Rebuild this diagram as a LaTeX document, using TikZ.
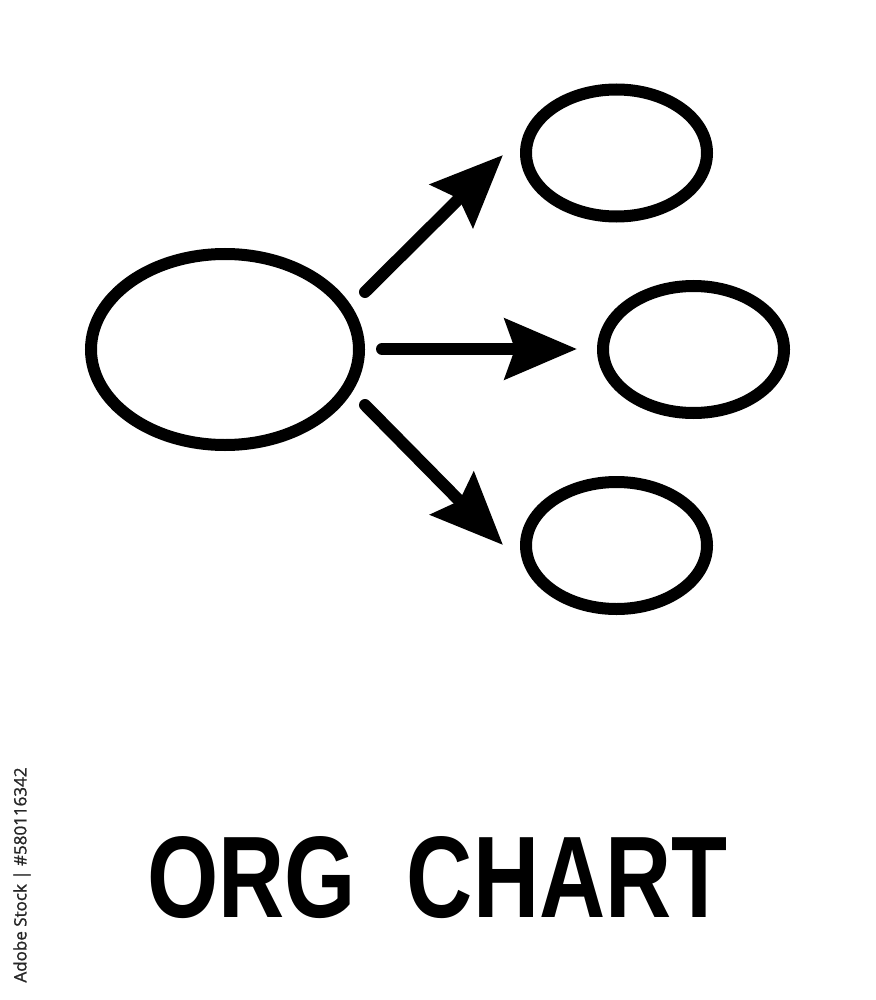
\documentclass[tikz,border=0pt]{standalone}
\usepackage{fontspec}
\setmainfont{Liberation Sans}
\newfontfamily\sidefont[FakeBold=1.2]{Open Sans}
\usetikzlibrary{shapes.geometric,arrows.meta}
\begin{document}
\begin{tikzpicture}[x=1pt,y=-1pt,
  box/.style={draw=black,line width=12pt,ellipse,inner sep=0pt,outer sep=0pt},
  bigbox/.style={box,minimum width=268pt,minimum height=191pt},
  smallbox/.style={box,minimum width=181pt,minimum height=127pt},
  conn/.style={line width=12pt,line cap=round,-{Stealth[length=72pt,width=60pt,inset=10pt]}}]
\useasboundingbox (0,0) rectangle (875,1000);
\fill[white] (0,0) rectangle (875,1000);
\node[bigbox] (big) at (225,349.5) {};
\node[smallbox] (top) at (616.5,153) {};
\node[smallbox] (mid) at (693.5,349.5) {};
\node[smallbox] (bot) at (616.5,545.5) {};
\coordinate (s1) at (365,292);
\coordinate (e1) at (503,155);
\coordinate (s2) at (382,349);
\coordinate (e2) at (577,349);
\coordinate (s3) at (365,405);
\coordinate (e3) at (503,545);
\draw[conn] (s1) -- (e1);
\draw[conn] (s2) -- (e2);
\draw[conn] (s3) -- (e3);
\node[anchor=base,inner sep=0pt] (title) at (437.5,917)
  {\fontsize{116}{116}\selectfont\bfseries\scalebox{0.79}[1]{ORG\ \ CHART}};
\node[rotate=90,inner sep=0pt,text=black!85] (stock) at (22,875)
  {\sidefont\fontsize{17}{17}\selectfont Adobe Stock | \#580116342};
\end{tikzpicture}
\end{document}
